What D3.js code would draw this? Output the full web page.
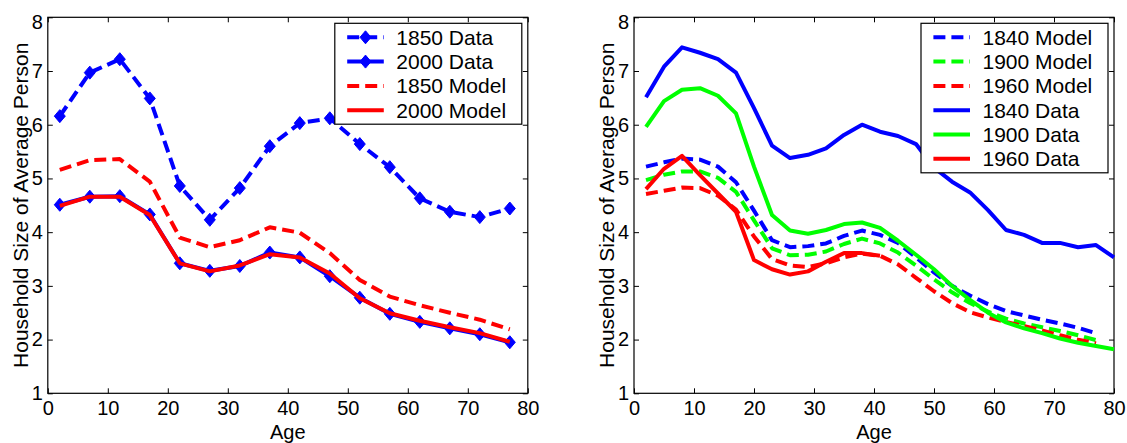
<!DOCTYPE html>
<html>
<head>
<meta charset="utf-8">
<script src="https://cdn.jsdelivr.net/npm/d3@7"></script>
<style>
  body { margin: 0; background: #fff; }
  svg { display: block; font-family: "Liberation Sans", Arial, Helvetica, sans-serif; }
</style>
</head>
<body>
<svg id="chart" width="1127" height="443"></svg>
<script>
// ---- data: left panel (5-year age groups) ----
const agesLeft = [2, 7, 12, 17, 22, 27, 32, 37, 42, 47, 52, 57, 62, 67, 72, 77];
const data1850 = [6.16, 6.97, 7.22, 6.49, 4.86, 4.23, 4.82, 5.60, 6.03, 6.12, 5.64, 5.21, 4.63, 4.38, 4.28, 4.44];
const data2000 = [4.51, 4.66, 4.67, 4.33, 3.42, 3.28, 3.37, 3.62, 3.53, 3.18, 2.78, 2.48, 2.33, 2.21, 2.10, 1.95];
const model1850 = [5.16, 5.34, 5.36, 4.94, 3.90, 3.72, 3.85, 4.09, 3.99, 3.61, 3.11, 2.80, 2.64, 2.50, 2.37, 2.19];
const model2000 = [4.49, 4.66, 4.66, 4.32, 3.42, 3.27, 3.38, 3.59, 3.53, 3.23, 2.77, 2.49, 2.35, 2.23, 2.12, 1.96];

// ---- data: right panel (3-year age groups) ----
const agesRight = [2, 5, 8, 11, 14, 17, 20, 23, 26, 29, 32, 35, 38, 41, 44, 47, 50, 53, 56, 59, 62, 65, 68, 71, 74, 77, 80];
const model1840 = [5.22, 5.30, 5.37, 5.35, 5.22, 4.93, 4.40, 3.85, 3.72, 3.74, 3.79, 3.93, 4.03, 3.95, 3.80, 3.53, 3.25, 3.00, 2.82, 2.66, 2.53, 2.45, 2.37, 2.30, 2.22, 2.12];
const model1900 = [4.97, 5.07, 5.13, 5.13, 5.01, 4.75, 4.22, 3.70, 3.57, 3.58, 3.64, 3.78, 3.88, 3.79, 3.62, 3.38, 3.12, 2.88, 2.68, 2.52, 2.39, 2.30, 2.23, 2.16, 2.08, 1.99];
const model1960 = [4.71, 4.77, 4.83, 4.82, 4.68, 4.42, 3.92, 3.50, 3.38, 3.35, 3.42, 3.53, 3.60, 3.56, 3.40, 3.15, 2.90, 2.68, 2.51, 2.41, 2.33, 2.25, 2.17, 2.08, 2.00, 1.93];
const data1840 = [6.51, 7.08, 7.44, 7.34, 7.22, 6.97, 6.31, 5.61, 5.38, 5.44, 5.56, 5.81, 6.00, 5.87, 5.79, 5.64, 5.20, 4.94, 4.74, 4.41, 4.04, 3.95, 3.80, 3.80, 3.72, 3.76, 3.53];
const data1900 = [5.96, 6.44, 6.65, 6.68, 6.54, 6.21, 5.22, 4.32, 4.03, 3.97, 4.04, 4.15, 4.18, 4.08, 3.84, 3.58, 3.31, 3.00, 2.74, 2.50, 2.32, 2.21, 2.12, 2.02, 1.94, 1.88, 1.82];
const data1960 = [4.80, 5.18, 5.42, 5.06, 4.72, 4.38, 3.48, 3.31, 3.21, 3.27, 3.45, 3.61, 3.61, 3.56];

const xTicks = [0, 10, 20, 30, 40, 50, 60, 70, 80];
const yTicks = [1, 2, 3, 4, 5, 6, 7, 8];

const BLUE = '#0000ff', RED = '#ff0000', GREEN = '#00ff00';
const DASH = '12,6';

const config = {
  plotWidth: 480,
  plotTop: 17.3,
  plotBottom: 393.3,
  tickLen: 5,
  lineWidth: 4,
  legendWidth: 187,
  legendRow: 24.3,
  legendPad: 14
};

const svg = d3.select('#chart');

function zipSeries(xs, ys) {
  return ys.map((v, i) => ({ age: xs[i], size: v }));
}

function drawPanel(left, series) {
  const x = d3.scaleLinear().domain([0, 80]).range([left, left + config.plotWidth]);
  const y = d3.scaleLinear().domain([1, 8]).range([config.plotBottom, config.plotTop]);
  const g = svg.append('g');

  // axes with inward ticks on all four sides (matlab "box on")
  g.append('g')
      .attr('transform', `translate(0,${config.plotBottom})`)
      .call(d3.axisBottom(x).tickValues(xTicks).tickFormat(d3.format('d'))
        .tickSizeInner(-config.tickLen).tickSizeOuter(0).tickPadding(8));
  const leftAx = g.append('g')
      .attr('transform', `translate(${left},0)`)
      .call(d3.axisLeft(y).tickValues(yTicks).tickFormat(d3.format('d'))
        .tickSizeInner(-config.tickLen).tickSizeOuter(0).tickPadding(5));
  g.append('g')
      .attr('transform', `translate(0,${config.plotTop})`)
      .call(d3.axisTop(x).tickValues(xTicks).tickSizeInner(-config.tickLen).tickSizeOuter(0).tickFormat(''));
  g.append('g')
      .attr('transform', `translate(${left + config.plotWidth},0)`)
      .call(d3.axisRight(y).tickValues(yTicks).tickSizeInner(-config.tickLen).tickSizeOuter(0).tickFormat(''));

  g.selectAll('.domain').remove();
  g.selectAll('.tick line').attr('stroke', '#000').attr('stroke-width', 1);
  g.selectAll('.tick text').attr('fill', '#000').style('font-size', '20px')
      .style('font-family', '"Liberation Sans", Arial, sans-serif');
  // top label sits a bit lower in the original (cropped figure edge)
  leftAx.selectAll('.tick text').filter(d => d === 8).attr('dy', '0.55em');

  // frame
  g.append('rect')
      .attr('x', left).attr('y', config.plotTop)
      .attr('width', config.plotWidth).attr('height', config.plotBottom - config.plotTop)
      .attr('fill', 'none').attr('stroke', '#000').attr('stroke-width', 1.2);

  // lines
  const line = d3.line().x(d => x(d.age)).y(d => y(d.size));
  const diamond = 'M0,-6.5L5.5,0L0,6.5L-5.5,0Z';

  series.forEach(s => {
    const pts = zipSeries(s.ages, s.values);
    g.append('path')
        .datum(pts)
        .attr('d', line)
        .attr('fill', 'none')
        .attr('stroke', s.color)
        .attr('stroke-width', config.lineWidth)
        .attr('stroke-linejoin', 'round')
        .attr('stroke-dasharray', s.dashed ? DASH : null);
    if (s.marker) {
      g.selectAll(null)
          .data(pts)
        .join('path')
          .attr('d', diamond)
          .attr('transform', d => `translate(${x(d.age)},${y(d.size)})`)
          .attr('fill', s.color)
          .attr('stroke', s.color)
          .attr('stroke-width', 1);
    }
  });

  // axis titles
  g.append('text')
      .attr('x', (x.range()[0] + x.range()[1]) / 2)
      .attr('y', config.plotBottom + 45.5)
      .attr('text-anchor', 'middle')
      .style('font-size', '20px')
      .text('Age');
  g.append('text')
      .attr('transform', `translate(${left - 20},${(config.plotTop + config.plotBottom) / 2}) rotate(-90)`)
      .attr('text-anchor', 'middle')
      .style('font-size', '21px')
      .text('Household Size of Average Person');

  // legend (top right, white box)
  const lgRight = left + config.plotWidth - 6;
  const lgTop = config.plotTop + 6;
  const lgHeight = config.legendPad * 2 + (series.length - 1) * config.legendRow;
  const lg = g.append('g').attr('transform', `translate(${lgRight - config.legendWidth},${lgTop})`);
  lg.append('rect')
      .attr('width', config.legendWidth).attr('height', lgHeight)
      .attr('fill', '#fff').attr('stroke', '#000').attr('stroke-width', 1.2);

  const items = lg.selectAll('.legend-item')
      .data(series)
    .join('g')
      .attr('class', 'legend-item')
      .attr('transform', (d, i) => `translate(0,${config.legendPad + i * config.legendRow})`);
  items.append('line')
      .attr('x1', 12.4).attr('x2', 49)
      .attr('stroke', d => d.color)
      .attr('stroke-width', config.lineWidth)
      .attr('stroke-dasharray', d => d.dashed ? DASH : null);
  items.filter(d => d.marker).append('path')
      .attr('d', diamond)
      .attr('transform', 'translate(30.7,0)')
      .attr('fill', d => d.color)
      .attr('stroke', d => d.color);
  items.append('text')
      .attr('x', 61.5)
      .attr('dy', '0.36em')
      .style('font-size', '21px')
      .text(d => d.label);
}

drawPanel(47.8, [
  { label: '1850 Data', ages: agesLeft, values: data1850, color: BLUE, dashed: true, marker: true },
  { label: '2000 Data', ages: agesLeft, values: data2000, color: BLUE, dashed: false, marker: true },
  { label: '1850 Model', ages: agesLeft, values: model1850, color: RED, dashed: true, marker: false },
  { label: '2000 Model', ages: agesLeft, values: model2000, color: RED, dashed: false, marker: false }
]);

drawPanel(634, [
  { label: '1840 Model', ages: agesRight, values: model1840, color: BLUE, dashed: true },
  { label: '1900 Model', ages: agesRight, values: model1900, color: GREEN, dashed: true },
  { label: '1960 Model', ages: agesRight, values: model1960, color: RED, dashed: true },
  { label: '1840 Data', ages: agesRight, values: data1840, color: BLUE, dashed: false },
  { label: '1900 Data', ages: agesRight, values: data1900, color: GREEN, dashed: false },
  { label: '1960 Data', ages: agesRight, values: data1960, color: RED, dashed: false }
]);
</script>
</body>
</html>
